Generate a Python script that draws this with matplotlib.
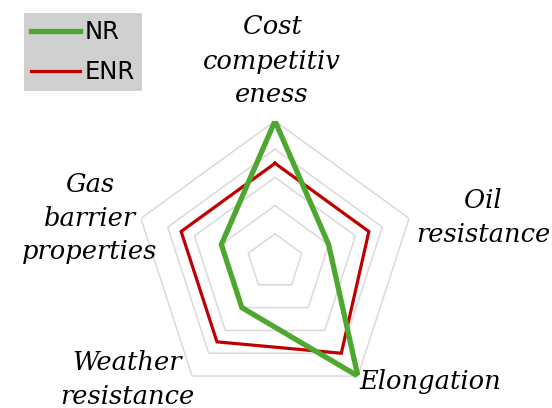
import numpy as np
import matplotlib.pyplot as plt

# axes, clockwise from the top
labels = ["Cost\ncompetitiv\neness", "Oil\nresistance", "Elongation",
          "Weather\nresistance", "Gas\nbarrier\nproperties"]
nr = [5, 2, 5, 2, 2]
enr = [3.5, 3.5, 4, 3.5, 3.5]
rings = [1, 2, 3, 4, 5]

n = len(labels)
theta = np.arange(n) * 2 * np.pi / n
theta_c = np.append(theta, theta[0])

fig = plt.figure(figsize=(5.52, 4.08), dpi=100)
ax = fig.add_axes([134/552, 5/408, 282/552, 282/408], projection='polar')
ax.set_theta_offset(np.pi/2)
ax.set_theta_direction(-1)
ax.set_ylim(0, 5)
ax.axis('off')

# pentagon grid
for r in rings:
    ax.plot(theta_c, [r]*(n+1), color='#d9d9d9', lw=1.1, zorder=1)

ax.plot(theta_c, np.append(nr, nr[0]), color='#4ea72e', lw=3.8, label='NR',
        solid_joinstyle='miter', zorder=3)
ax.plot(theta_c, np.append(enr, enr[0]), color='#c00000', lw=2.3, label='ENR',
        solid_joinstyle='miter', zorder=2)

# category labels
pos = [(272, 61), (483, 218), (430, 382), (127, 380), (90, 218)]
for lab, (x, y) in zip(labels, pos):
    fig.text(x/552, 1 - y/408, lab, ha='center', va='center', fontsize=18.5,
             family='DejaVu Serif', style='italic', linespacing=1.45)

leg = fig.legend(loc='upper left', bbox_to_anchor=(24/552, 1 - 13/408),
                 borderaxespad=0, fontsize=17.5, handlelength=2.0,
                 handletextpad=0.2, borderpad=0.3, labelspacing=0.65,
                 fancybox=False, framealpha=1, facecolor='#d0d0d0',
                 edgecolor='none')

fig.savefig('out.png', dpi=100)
